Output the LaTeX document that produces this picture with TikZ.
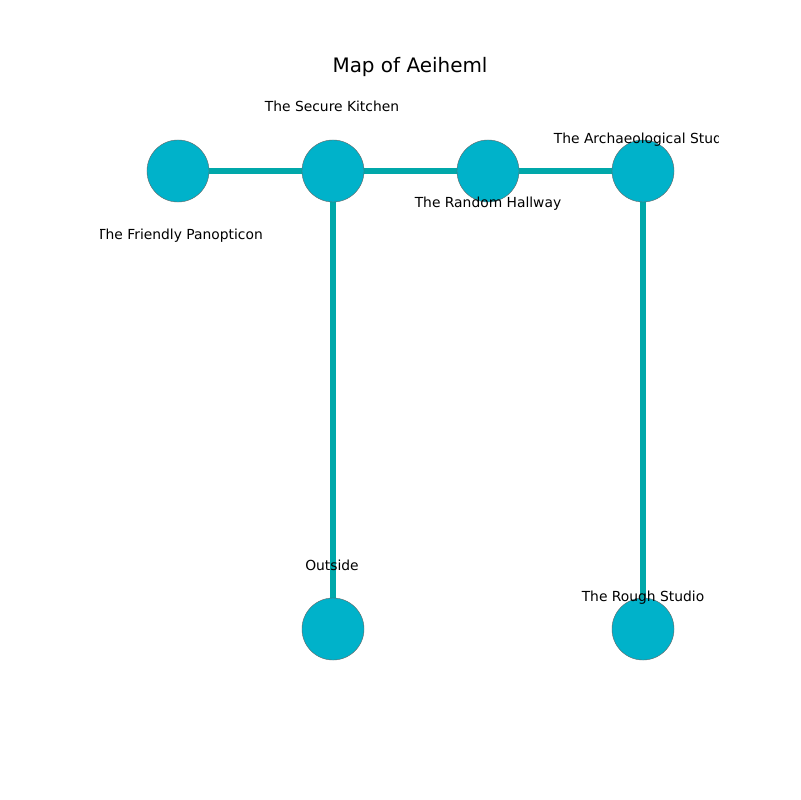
\documentclass[tikz,border=0pt]{standalone}
\usepackage{fontspec}
\setmainfont{DejaVu Sans}
\usepackage{xcolor}
\usetikzlibrary{backgrounds}
\definecolor{roomfill}{RGB}{0,178,202}
\definecolor{roomedge}{RGB}{0,168,170}
\tikzset{
    room/.style={circle, draw=gray!80!black, line width=0.3pt, fill=roomfill,
        minimum size=0.62in, inner sep=0pt},
    passage/.style={draw=roomedge, line width=4.3pt},
    roomlabel/.style={font=\fontsize{10}{12}\selectfont, inner sep=0pt},
    maptitle/.style={font=\fontsize{14.4}{17}\selectfont, inner sep=0pt}
}
\begin{document}
\begin{tikzpicture}[x=0.01in, y=-0.01in]
    \useasboundingbox (0,0) rectangle (800,800);
    \node[maptitle] (title) at (410,67) {Map of Aeiheml};
    % rooms
    \node[room] (panopticon) at (178,171) {};
    \node[room] (kitchen) at (333,171) {};
    \node[room] (hallway) at (488,171) {};
    \node[room] (studio) at (643,171) {};
    \node[room] (outside) at (333,629) {};
    \node[room] (rough) at (643,629) {};
    % passages, behind the rooms
    \begin{scope}[on background layer]
        \draw[passage] (panopticon.center) -- (kitchen.center);
        \draw[passage] (kitchen.center) -- (hallway.center);
        \draw[passage] (hallway.center) -- (studio.center);
        \draw[passage] (kitchen.center) -- (outside.center);
        \draw[passage] (studio.center) -- (rough.center);
    \end{scope}
    % labels (clipped to the plot area)
    \begin{scope}
        \clip (100,88) rectangle (718,712);
        \node[roomlabel] (lkitchen) at (332,106) {The Secure Kitchen};
        \node[roomlabel] (lpanopticon) at (180,236) {The Friendly Panopticon};
        \node[roomlabel] (lhallway) at (488,204) {The Random Hallway};
        \node[roomlabel] (lstudio) at (644,140) {The Archaeological Studio};
        \node[roomlabel] (loutside) at (332,565) {Outside};
        \node[roomlabel] (lrough) at (643,598) {The Rough Studio};
    \end{scope}
\end{tikzpicture}
\end{document}
